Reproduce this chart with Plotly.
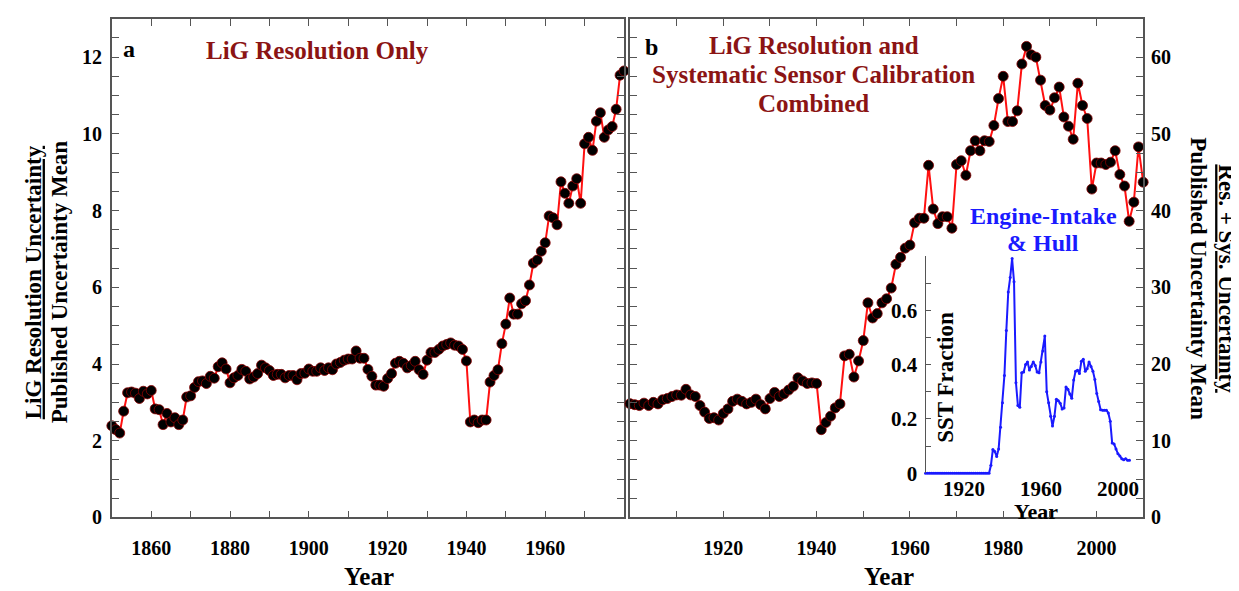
import plotly.graph_objects as go

# ---------------- data ----------------
years_a = list(range(1850, 1981))
lig_res_only = [
    2.39, 2.29, 2.20, 2.77, 3.25, 3.27, 3.24, 3.10, 3.29, 3.22,
    3.31, 2.83, 2.81, 2.42, 2.71, 2.49, 2.60, 2.42, 2.54, 3.14,
    3.17, 3.39, 3.54, 3.56, 3.49, 3.68, 3.63, 3.93, 4.03, 3.87,
    3.51, 3.64, 3.70, 3.86, 3.81, 3.61, 3.66, 3.75, 3.97, 3.90,
    3.83, 3.70, 3.73, 3.73, 3.64, 3.70, 3.70, 3.59, 3.75, 3.76,
    3.87, 3.81, 3.81, 3.90, 3.83, 3.90, 3.85, 4.00, 4.04, 4.10,
    4.13, 4.13, 4.34, 4.15, 4.15, 3.86, 3.68, 3.45, 3.45, 3.42,
    3.62, 3.75, 4.02, 4.07, 4.02, 3.90, 3.96, 4.07, 3.85, 3.73,
    4.10, 4.30, 4.30, 4.38, 4.47, 4.51, 4.55, 4.49, 4.47, 4.38,
    4.08, 2.49, 2.54, 2.47, 2.54, 2.54, 3.53, 3.70, 3.85, 4.53,
    5.04, 5.72, 5.30, 5.30, 5.57, 5.65, 6.06, 6.63, 6.71, 6.94,
    7.16, 7.86, 7.81, 7.63, 8.75, 8.45, 8.19, 8.64, 8.83, 8.19,
    9.74, 9.91, 9.57, 10.33, 10.55, 9.91, 10.10, 10.19, 10.64, 11.53,
    11.64,
]

years_b = list(range(1900, 2011))
res_sys_combined = [
    14.83, 14.70, 14.58, 14.90, 14.58, 15.00, 14.80, 15.34, 15.50, 15.76,
    15.97, 15.93, 16.70, 15.97, 15.76, 14.58, 13.73, 12.90, 13.00, 12.70,
    13.56, 14.15, 15.13, 15.42, 15.13, 14.80, 15.00, 15.42, 14.70, 14.15,
    15.50, 16.30, 15.76, 16.10, 16.60, 17.10, 18.20, 17.80, 17.46, 17.54,
    17.46, 11.44, 12.37, 13.20, 14.28, 14.80, 21.06, 21.27, 18.30, 20.40,
    23.05, 27.97, 26.00, 26.57, 27.97, 28.50, 29.90, 33.00, 33.90, 35.10,
    35.50, 38.40, 39.00, 39.00, 45.90, 40.20, 38.30, 39.20, 39.20, 37.70,
    46.00, 46.50, 44.60, 47.80, 49.10, 47.80, 49.10, 49.00, 51.10, 54.60,
    57.50, 51.60, 51.60, 53.00, 59.10, 61.40, 60.30, 60.00, 57.00, 53.70,
    53.10, 54.70, 56.10, 52.20, 51.00, 49.30, 56.60, 53.70, 52.00, 42.80,
    46.20, 46.20, 46.00, 46.30, 47.80, 44.70, 43.20, 38.60, 41.10, 48.30,
    43.70,
]

years_inset = list(range(1900, 2007))
sst_fraction = [0.0] * 34 + [
    0.030, 0.088, 0.080, 0.062, 0.090, 0.170, 0.260, 0.360, 0.525, 0.667,
    0.720, 0.790, 0.705, 0.333, 0.250, 0.243, 0.370, 0.373, 0.400, 0.410,
    0.380, 0.393, 0.410, 0.397, 0.373, 0.370, 0.410, 0.450, 0.505, 0.300,
    0.260, 0.210, 0.174, 0.210, 0.273, 0.267, 0.258, 0.237, 0.240, 0.318,
    0.309, 0.292, 0.276, 0.343, 0.376, 0.379, 0.367, 0.412, 0.420, 0.376,
    0.385, 0.410, 0.393, 0.376, 0.345, 0.294, 0.264, 0.234, 0.232, 0.232,
    0.232, 0.222, 0.192, 0.112, 0.108, 0.090, 0.072, 0.064, 0.054, 0.050,
    0.054, 0.048, 0.048,
]

xticks_a = [1860, 1880, 1900, 1920, 1940, 1960]
xticks_b = [1920, 1940, 1960, 1980, 2000]
xticks_inset = [1920, 1960, 2000]
yticks_inset = [0, 0.2, 0.4, 0.6]
yticklabels_inset = ["0", "0.2", "0.4", "0.6"]

# ---------------- figure ----------------
W, H = 1239, 591
FONT = "Liberation Serif"
FRAME = "#555555"
DARKRED = "#8b1414"
BLUE = "#1a1aff"


def px(x):
    return x / W


def py(y):
    return 1 - y / H


fig = go.Figure()

fig.add_trace(go.Scatter(
    x=years_a, y=lig_res_only, xaxis="x", yaxis="y", mode="lines+markers",
    line=dict(color="#ff1010", width=2),
    marker=dict(color="black", size=10, line=dict(color="#8a0000", width=0.8)),
    cliponaxis=False, showlegend=False,
))
fig.add_trace(go.Scatter(
    x=years_b, y=res_sys_combined, xaxis="x2", yaxis="y2", mode="lines+markers",
    line=dict(color="#ff1010", width=2),
    marker=dict(color="black", size=10, line=dict(color="#8a0000", width=0.8)),
    cliponaxis=False, showlegend=False,
))
fig.add_trace(go.Scatter(
    x=years_inset, y=sst_fraction, xaxis="x3", yaxis="y3", mode="lines+markers",
    line=dict(color=BLUE, width=2),
    marker=dict(color=BLUE, size=3),
    cliponaxis=False, showlegend=False,
))

tickfont = dict(family=FONT, size=20, color="black", weight="bold")
ydom = [py(520), py(11)]

common_axis = dict(
    showline=True, linecolor=FRAME, linewidth=1.5, mirror="ticks",
    ticks="inside", ticklen=7, tickcolor=FRAME, tickwidth=1.2,
    showgrid=False, zeroline=False, tickfont=tickfont,
)

fig.update_layout(
    width=W, height=H, autosize=False,
    margin=dict(l=0, r=0, t=0, b=0),
    paper_bgcolor="white", plot_bgcolor="rgba(0,0,0,0)",
    xaxis=dict(domain=[px(104), px(617)], range=[1850, 1980], anchor="y",
               tickmode="array", tickvals=xticks_a, ticklabelstandoff=12,
               minor=dict(dtick=10, tick0=1850, ticks="inside", ticklen=7,
                          tickcolor=FRAME, tickwidth=1.2, showgrid=False),
               **common_axis),
    yaxis=dict(domain=ydom, range=[0, 13], anchor="x",
               tick0=0, dtick=2, ticklabelstandoff=4,
               minor=dict(dtick=0.5, tick0=0, ticks="inside", ticklen=7,
                          tickcolor=FRAME, tickwidth=1.2, showgrid=False),
               **common_axis),
    xaxis2=dict(domain=[px(623), px(1137)], range=[1900, 2010], anchor="y2",
                tickmode="array", tickvals=xticks_b, ticklabelstandoff=12,
                minor=dict(dtick=10, tick0=1900, ticks="inside", ticklen=7,
                           tickcolor=FRAME, tickwidth=1.2, showgrid=False),
                **common_axis),
    yaxis2=dict(domain=ydom, range=[0, 65], anchor="x2", side="right",
                tick0=0, dtick=10, ticklabelstandoff=2,
                minor=dict(dtick=2.5, tick0=0, ticks="inside", ticklen=7,
                           tickcolor=FRAME, tickwidth=1.2, showgrid=False),
                **common_axis),
    xaxis3=dict(domain=[px(919), px(1131)], range=[1900, 2010], anchor="y3",
                showline=False, ticks="", showgrid=False, zeroline=False,
                tickmode="array", tickvals=xticks_inset,
                tickfont=dict(family=FONT, size=21, color="black", weight="bold"),
                ticklabelstandoff=1),
    yaxis3=dict(domain=[py(475), py(253)], range=[0, 0.8], anchor="x3",
                showline=True, linecolor=FRAME, linewidth=1.2,
                ticks="inside", ticklen=5, tickcolor=FRAME,
                showgrid=False, zeroline=False,
                tickmode="array", tickvals=yticks_inset, ticktext=yticklabels_inset,
                tickfont=dict(family=FONT, size=21, color="black", weight="bold"),
                ticklabelstandoff=3,
                minor=dict(dtick=0.1, tick0=0, ticks="inside", ticklen=5,
                           tickcolor=FRAME, showgrid=False)),
)

ann = []


def add(text, x, y, size, color="black", angle=0, xanchor="center", yanchor="middle"):
    ann.append(dict(text=text, x=x, y=y, xref="paper", yref="paper",
                    showarrow=False, textangle=angle, xanchor=xanchor, yanchor=yanchor,
                    font=dict(family=FONT, size=size, color=color, weight="bold")))


add("a", px(113), py(42), 24, xanchor="left")
add("LiG Resolution Only", px(310), py(43), 25, color=DARKRED)
add("b", px(636), py(40), 24, xanchor="left")
add("LiG Resolution and", px(807), py(38), 25, color=DARKRED)
add("Systematic Sensor Calibration", px(807), py(68), 25, color=DARKRED)
add("Combined", px(807), py(97), 25, color=DARKRED)
add("Year", px(362), py(580), 25)
add("Year", px(882), py(580), 25)
add("<u>LiG Resolution Uncertainty</u>", px(25), py(280), 23, angle=-90)
add("Published Uncertainty Mean", px(51), py(279), 23, angle=-90)
add("<u>Res. + Sys. Uncertainty</u>", px(1221), py(276), 23, angle=90)
add("Published Uncertainty Mean", px(1193), py(276), 23, angle=90)
add("Engine-Intake", px(1037), py(212), 24, color=BLUE)
add("& Hull", px(1037), py(240), 24, color=BLUE)
add("SST Fraction", px(939), py(377), 23, angle=-90)
add("Year", px(1030), py(514), 22)

fig.update_layout(annotations=ann)

fig.write_html("out.html")
